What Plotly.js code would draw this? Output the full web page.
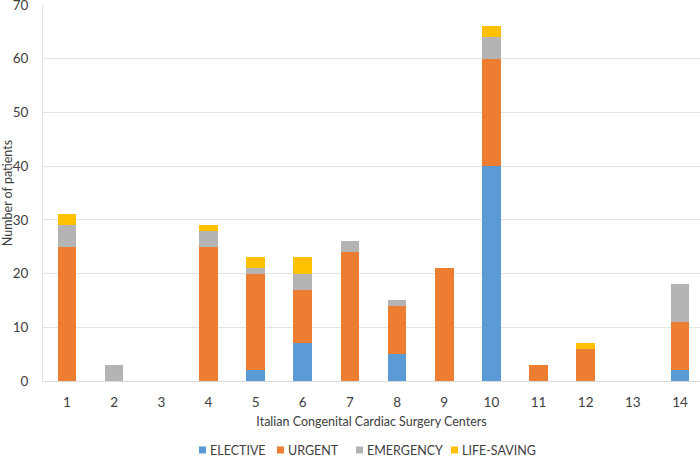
<!DOCTYPE html>
<html>
<head>
<meta charset="utf-8">
<script src="https://cdn.plot.ly/plotly-3.0.1.min.js"></script>
<style>html,body{margin:0;padding:0;background:#fff;}#chart{width:700px;height:457px;}</style>
</head>
<body>
<div id="chart"></div>
<script>
const centers = [1,2,3,4,5,6,7,8,9,10,11,12,13,14];
const tickLabels = ["1","2","3","4","5","6","7","8","9","10","11","12","13","14"];
const elective   = [0,0,0,0,2,7,0,5,0,40,0,0,0,2];
const urgent     = [25,0,0,25,18,10,24,9,21,20,3,6,0,9];
const emergency  = [4,3,0,3,1,3,2,1,0,4,0,0,0,7];
const lifeSaving = [2,0,0,1,2,3,0,0,0,2,0,1,0,0];

const seriesNames = ["ELECTIVE","URGENT","EMERGENCY","LIFE-SAVING"];
const seriesColors = ["#5B9BD5","#ED7D31","#B4B4B4","#FFC000"];
const seriesData = [elective, urgent, emergency, lifeSaving];

const traces = seriesData.map((d,i)=>({
  type:'bar',
  x: centers,
  y: d,
  name: seriesNames[i],
  width: 0.395,
  marker:{color: seriesColors[i]},
  hoverinfo:'none',
  showlegend:false
}));

// custom legend (layout positions in pixels, converted to paper coords)
const L = 43, T = 5, PW = 657, PH = 376;
const px = x => (x - L) / PW;
const py = y => (T + PH - y) / PH;
const swatchX = [199, 277, 356, 451];
const legendY = 450;
const shapes = [], annotations = [];
seriesNames.forEach((n,i)=>{
  shapes.push({type:'rect', xref:'paper', yref:'paper',
    x0:px(swatchX[i]), x1:px(swatchX[i]+7), y0:py(legendY+3.5), y1:py(legendY-3.5),
    fillcolor:seriesColors[i], line:{width:0}});
  annotations.push({xref:'paper', yref:'paper', x:px(swatchX[i]+10), y:py(legendY),
    xanchor:'left', yanchor:'middle', showarrow:false, text:n, borderpad:0,
    font:{size:12.5, color:'#404040'}});
});

const layout = {
  width:700, height:457,
  margin:{l:L, r:0, t:T, b:76},
  barmode:'stack',
  paper_bgcolor:'#fff', plot_bgcolor:'#fff',
  font:{family:'Lato, "Open Sans", sans-serif', size:12, color:'#404040'},
  showlegend:false,
  shapes: shapes,
  annotations: annotations,
  xaxis:{
    range:[0.491, 14.424],
    tickmode:'array', tickvals:centers, ticktext:tickLabels,
    showgrid:false, zeroline:false,
    showline:true, linecolor:'#D9D9D9', linewidth:1,
    ticks:'', ticklabelstandoff:9,
    automargin:false,
    tickfont:{size:13.5, color:'#404040'},
    title:{text:'Italian Congenital Cardiac Surgery Centers', font:{size:12.5, color:'#404040'}, standoff:8}
  },
  yaxis:{
    range:[0,70], dtick:10,
    showgrid:true, gridcolor:'#E3E3E3', gridwidth:1,
    zeroline:false,
    showline:true, linecolor:'#E3E3E3', linewidth:1,
    ticks:'', ticklabelstandoff:11, ticklabeloverflow:'allow',
    automargin:false,
    tickfont:{size:13.5, color:'#404040'},
    title:{text:'Number of patients', font:{size:12.5, color:'#404040'}, standoff:10}
  }
};

Plotly.newPlot('chart', traces, layout, {displayModeBar:false, staticPlot:true});
</script>
</body>
</html>
